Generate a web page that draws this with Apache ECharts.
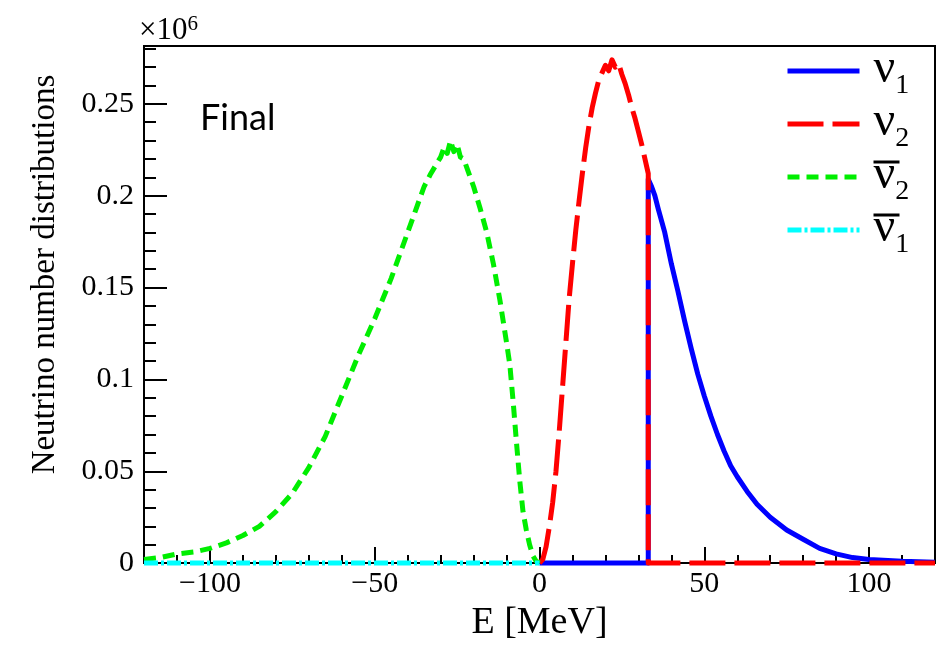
<!DOCTYPE html>
<html>
<head>
<meta charset="utf-8">
<script src="https://cdn.jsdelivr.net/npm/echarts@6/dist/echarts.min.js"></script>
<style>
  html, body { margin: 0; padding: 0; background: #ffffff; }
  #chart { width: 943px; height: 647px; }
</style>
</head>
<body>
<div id="chart"></div>
<script>
// Neutrino number distributions after the swap, energy in MeV, counts in units of 10^6.
// Antineutrinos are plotted at negative energy.

// nu_1 (solid blue)
const nu1E = [0, 33, 33, 34, 35, 36, 38, 40, 42, 44, 46, 48, 50, 52, 54, 56, 58, 60, 63, 66, 70, 75, 80, 85, 90, 95, 100, 110, 120];
const nu1N = [0, 0, 0.209, 0.205, 0.200, 0.193, 0.180, 0.163, 0.148, 0.132, 0.117, 0.103, 0.091, 0.080, 0.070, 0.061, 0.053, 0.047, 0.039, 0.032, 0.025, 0.018, 0.013, 0.008, 0.005, 0.003, 0.002, 0.001, 0.0005];

// nu_2 (long-dashed red)
const nu2E = [0, 1, 2, 3, 4, 5, 6, 7, 8, 9, 10, 11, 12, 13, 14, 15, 16, 17, 18, 19, 20, 21, 22, 23, 24, 25, 26, 27, 28, 29, 30, 31, 32, 33, 33, 120];
const nu2N = [0, 0.002, 0.009, 0.020, 0.033, 0.050, 0.072, 0.096, 0.120, 0.144, 0.163, 0.181, 0.197, 0.212, 0.226, 0.238, 0.248, 0.256, 0.263, 0.267, 0.271, 0.268, 0.274, 0.270, 0.272, 0.266, 0.261, 0.255, 0.248, 0.242, 0.235, 0.228, 0.220, 0.212, 0, 0];

// anti-nu_2 (short-dashed green)
const anu2E = [-120, -115, -110, -105, -100, -95, -90, -85, -80, -75, -70, -65, -60, -55, -50, -45, -40, -37, -35, -33, -31, -30, -29, -28, -27, -26, -25, -24, -23, -22, -21, -20, -19, -18, -16, -14, -12, -10, -9, -8, -7, -6, -5, -4, -3, -2, -1, 0];
const anu2N = [0.002, 0.003, 0.005, 0.006, 0.008, 0.011, 0.015, 0.020, 0.028, 0.038, 0.052, 0.069, 0.091, 0.113, 0.133, 0.155, 0.180, 0.195, 0.205, 0.212, 0.218, 0.221, 0.226, 0.223, 0.230, 0.224, 0.228, 0.221, 0.220, 0.215, 0.210, 0.205, 0.199, 0.193, 0.180, 0.163, 0.143, 0.120, 0.108, 0.088, 0.066, 0.045, 0.028, 0.018, 0.010, 0.004, 0.001, 0];

// anti-nu_1 (dash-dot cyan)
const anu1E = [-120, 0];
const anu1N = [0, 0];

// axis ticks
const xMajorTicks = [-100, -50, 0, 50, 100];
const xMinorTicks = [-110, -90, -80, -70, -60, -40, -30, -20, -10, 10, 20, 30, 40, 60, 70, 80, 90, 110];
const yMajorTicks = [0, 0.05, 0.1, 0.15, 0.2, 0.25];
const yMinorTicks = [0.01, 0.02, 0.03, 0.04, 0.06, 0.07, 0.08, 0.09, 0.11, 0.12, 0.13, 0.14, 0.16, 0.17, 0.18, 0.19, 0.21, 0.22, 0.23, 0.24, 0.26, 0.27, 0.28];

const X_MIN = -120, X_MAX = 120, Y_MIN = 0, Y_MAX = 0.2815;

const zip = (xs, ys) => xs.map((x, i) => [x, ys[i]]);

const SERIF = '"Liberation Serif", "DejaVu Serif", serif';

// legend labels: bar line (antiparticles only) above the symbol line
const legendText = {
  'ν1': '{sp| }{barOff| }\n{nu|ν}{sub|1}',
  'ν2': '{sp| }{barOff| }\n{nu|ν}{sub|2}',
  'ν̄2': '{sp| }{barOn| }\n{nu|ν}{sub|2}',
  'ν̄1': '{sp| }{barOn| }\n{nu|ν}{sub|1}'
};

function lineSeries(name, xs, ys, color, dash) {
  return {
    name: name,
    type: 'line',
    data: zip(xs, ys),
    xAxisIndex: 0,
    yAxisIndex: 0,
    symbol: 'none',
    clip: false,
    lineStyle: { color: color, width: 5, type: dash, cap: 'butt', join: 'round' },
    itemStyle: { color: color },
    emphasis: { disabled: true }
  };
}

const tickStyle = { color: '#000', width: 2 };

const chart = echarts.init(document.getElementById('chart'), null, { renderer: 'canvas' });

chart.setOption({
  animation: false,
  backgroundColor: '#ffffff',
  grid: {
    left: 144, top: 46, right: 8, bottom: 82,
    show: true, borderColor: '#000', borderWidth: 2, backgroundColor: 'transparent'
  },
  xAxis: [
    {
      type: 'value', min: X_MIN, max: X_MAX, position: 'bottom',
      name: 'E [MeV]', nameLocation: 'middle', nameGap: 34,
      nameTextStyle: { fontFamily: SERIF, fontSize: 38, color: '#000' },
      axisLine: { show: true, onZero: false, lineStyle: { color: '#000', width: 2 } },
      axisTick: { show: true, inside: true, length: 16, customValues: xMajorTicks, lineStyle: tickStyle },
      axisLabel: {
        show: true, customValues: xMajorTicks, margin: 6,
        fontFamily: SERIF, fontSize: 30, color: '#000',
        formatter: v => String(v).replace('-', '\u2212')
      },
      splitLine: { show: false }
    },
    {
      type: 'value', min: X_MIN, max: X_MAX, position: 'bottom',
      axisLine: { show: false, onZero: false },
      axisTick: { show: true, inside: true, length: 8, customValues: xMinorTicks, lineStyle: tickStyle },
      axisLabel: { show: false },
      splitLine: { show: false }
    }
  ],
  yAxis: [
    {
      type: 'value', min: Y_MIN, max: Y_MAX, position: 'left',
      name: 'Neutrino number distributions', nameLocation: 'middle', nameGap: 82, nameRotate: 90,
      nameTextStyle: { fontFamily: SERIF, fontSize: 33, color: '#000', padding: [0, 0, 0, 60] },
      axisLine: { show: true, onZero: false, lineStyle: { color: '#000', width: 2 } },
      axisTick: { show: true, inside: true, length: 23, customValues: yMajorTicks, lineStyle: tickStyle },
      axisLabel: { show: true, customValues: yMajorTicks, margin: 10, fontFamily: SERIF, fontSize: 30, color: '#000' },
      splitLine: { show: false }
    },
    {
      type: 'value', min: Y_MIN, max: Y_MAX, position: 'left',
      axisLine: { show: false, onZero: false },
      axisTick: { show: true, inside: true, length: 12, customValues: yMinorTicks, lineStyle: tickStyle },
      axisLabel: { show: false },
      splitLine: { show: false }
    }
  ],
  legend: {
    orient: 'vertical',
    left: 785, top: 41,
    padding: 0,
    itemWidth: 72, itemHeight: 14, itemGap: -10,
    selectedMode: false,
    formatter: name => legendText[name],
    itemStyle: { opacity: 0, borderWidth: 0 },
    lineStyle: { width: 5 },
    textStyle: {
      color: '#000',
      fontSize: 1,
      lineHeight: 3,
      padding: 0,
      rich: {
        sp: { width: 9, height: 3, lineHeight: 3, fontSize: 1, padding: 0, backgroundColor: 'transparent' },
        barOn: { width: 26, height: 3, lineHeight: 3, fontSize: 1, padding: 0, backgroundColor: '#000' },
        barOff: { width: 26, height: 3, lineHeight: 3, fontSize: 1, padding: 0, backgroundColor: 'transparent' },
        nu: { fontFamily: SERIF, fontSize: 48, lineHeight: 30, color: '#000', padding: [4, 0, 11, 9] },
        sub: { fontFamily: SERIF, fontSize: 28, lineHeight: 19, color: '#000', padding: [26, 0, 0, 0] }
      }
    }
  },
  graphic: [
    {
      type: 'text', left: 200, top: 100,
      style: { text: 'Final', fontFamily: 'Lato, "Open Sans", sans-serif', fontSize: 36, fill: '#000' }
    },
    {
      type: 'text', left: 139, top: 14,
      style: {
        text: '{a|×10}{b|6}',
        rich: {
          a: { fontFamily: SERIF, fontSize: 31, fill: '#000', lineHeight: 32, verticalAlign: 'bottom' },
          b: { fontFamily: SERIF, fontSize: 21, fill: '#000', lineHeight: 21, verticalAlign: 'top' }
        }
      }
    }
  ],
  series: [
    lineSeries('ν1', nu1E, nu1N, '#0000ff', 'solid'),
    lineSeries('ν2', nu2E, nu2N, '#ff0000', [36, 9]),
    lineSeries('ν̄2', anu2E, anu2N, '#00ee00', [12, 7]),
    lineSeries('ν̄1', anu1E, anu1N, '#00ffff', [14, 3, 3, 3])
  ]
});
</script>
</body>
</html>
